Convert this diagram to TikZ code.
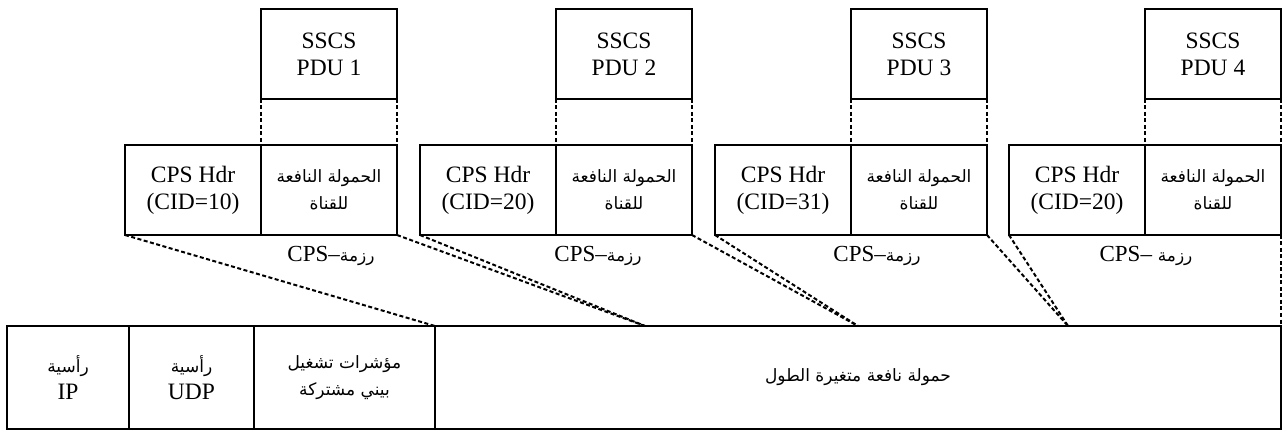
\documentclass[tikz,border=0pt]{standalone}
\usepackage{fontspec}
\setmainfont{Liberation Serif}
\newfontfamily\arabicfont[Script=Arabic]{DejaVu Sans}
\TeXXeTstate=1
\newcommand{\ar}[1]{{\arabicfont\fontsize{17}{27}\selectfont\beginR #1\endR}}
\begin{document}
\begin{tikzpicture}[x=1pt,y=-1pt,
  box/.style={draw,line width=2pt,anchor=north west,inner sep=0pt,outer sep=0pt,
    align=center,font=\fontsize{23.5}{27}\selectfont},
  dsh/.style={line width=2pt,dash pattern=on 4pt off 2.5pt},
  lbl/.style={font=\fontsize{23}{27}\selectfont,inner sep=0pt}]
\useasboundingbox (0,0) rectangle (1282,430);
% SSCS PDUs
\foreach \i/\x in {1/261,2/556,3/851,4/1145}{
  \node[box,minimum width=136pt,minimum height=90pt] (s\i) at (\x,9) {SSCS\\PDU \i};
}
% CPS packets
\foreach \i/\x/\c in {1/125/10,2/420/20,3/715/31,4/1009/20}{
  \node[box,minimum width=136pt,minimum height=90pt] (h\i) at (\x,145) {CPS Hdr\\(CID=\c)};
  \node[box,minimum width=136pt,minimum height=90pt] (p\i) at (h\i.north east) {\ar{الحمولة النافعة}\\\ar{للقناة}};
}
% dashed verticals
\foreach \i in {1,2,3,4}{
  \draw[dsh] (s\i.south west) -- (p\i.north west);
  \draw[dsh] (s\i.south east) -- (p\i.north east);
}
% labels
\node[lbl] (l1) at (331,256) {CPS–\ar{رزمة}};
\node[lbl] (l2) at (598,256) {CPS–\ar{رزمة}};
\node[lbl] (l3) at (877,256) {CPS–\ar{رزمة}};
\node[lbl] (l4) at (1146,256) {CPS– \ar{رزمة}};
% bottom frame
\node[box,minimum width=122pt,minimum height=103pt] (ip) at (7,326) {\ar{رأسية}\\IP};
\node[box,minimum width=125pt,minimum height=103pt] (udp) at (ip.north east) {\ar{رأسية}\\UDP};
\node[box,minimum width=181pt,minimum height=103pt] (cid) at (udp.north east) {\ar{مؤشرات تشغيل}\\\ar{بيني مشتركة}};
\node[box,minimum width=846pt,minimum height=103pt] (var) at (cid.north east) {\ar{حمولة نافعة متغيرة الطول}};
\coordinate (m1) at (645,326);
\coordinate (m2) at (858,326);
\coordinate (m3) at (1068,326);
% dashed connectors
\draw[dsh] (h1.south west) -- (var.north west);
\draw[dsh] (p1.south east) -- (m1);
\draw[dsh] (h2.south west) -- (m1);
\draw[dsh] (p2.south east) -- (m2);
\draw[dsh] (h3.south west) -- (m2);
\draw[dsh] (p3.south east) -- (m3);
\draw[dsh] (h4.south west) -- (m3);
\draw[dsh] (p4.south east) -- (var.north east);
\end{tikzpicture}
\end{document}
